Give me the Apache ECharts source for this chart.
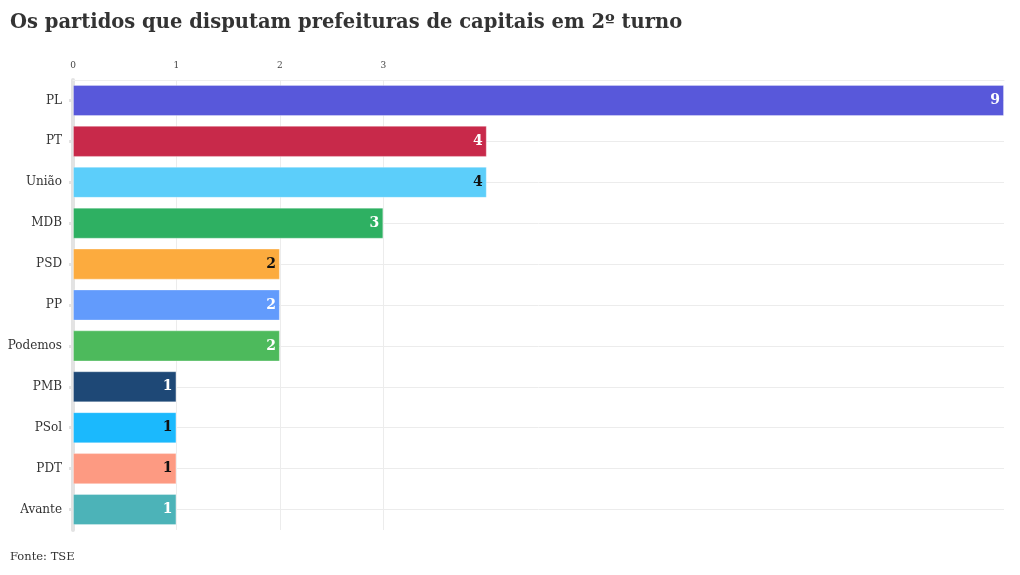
<!DOCTYPE html>
<html><head><meta charset="utf-8">
<script src="https://cdn.jsdelivr.net/npm/echarts@6/dist/echarts.min.js"></script>
<style>html,body{margin:0;padding:0;background:#fff}#c{width:1020px;height:575px}</style>
</head><body><div id="c"></div>
<script>
const categories = ['PL','PT','União','MDB','PSD','PP','Podemos','PMB','PSol','PDT','Avante'];
const values = [9,4,4,3,2,2,2,1,1,1,1];
const colors = ['#5858da','#c8294a','#5ccefa','#2eb062','#fcab3e','#629bfc','#4dba5c','#1e4876','#1bb9fd','#fd9a82','#4cb3b8'];
const labelColors = ['#fff','#fff','#111','#fff','#111','#fff','#fff','#fff','#111','#111','#fff'];
const xTicks = [0,1,2,3];
const serif = 'DejaVu Serif';
const chart = echarts.init(document.getElementById('c'));
chart.setOption({
  animation:false,
  title:{text:'Os partidos que disputam prefeituras de capitais em 2º turno',left:10,top:13,padding:0,
    textStyle:{fontFamily:serif,fontSize:19.5,fontWeight:'bold',color:'#333'}},
  graphic:[{type:'text',left:10,top:551,style:{text:'Fonte: TSE',fontFamily:serif,fontSize:11.5,fill:'#333'}}],
  grid:{left:73,right:16,top:80,height:450,containLabel:false},
  xAxis:{type:'value',position:'top',min:0,max:9,interval:1,
    axisLine:{show:true,lineStyle:{color:'#eee',width:1}},axisTick:{show:false},
    splitLine:{show:false},
    axisLabel:{fontFamily:serif,fontSize:9,color:'#444',margin:10,
      formatter:v=>xTicks.indexOf(v)>=0?String(v):''}},
  yAxis:{type:'category',inverse:true,data:categories,
    axisLine:{show:true,lineStyle:{color:'#e3e3e3',width:4}},
    axisTick:{show:true,length:4,alignWithLabel:true,lineStyle:{color:'#e3e3e3',width:3}},
    splitLine:{show:true,alignWithLabel:true,lineStyle:{color:'#ececec',width:1}},
    axisLabel:{fontFamily:serif,fontSize:12,color:'#333',margin:11}},
  series:[{type:'bar',barCategoryGap:'24%',
    data:values.map((v,i)=>({value:v,itemStyle:{color:colors[i]},
      label:{color:labelColors[i]}})),
    itemStyle:{borderColor:'rgba(255,255,255,0.3)',borderWidth:1},
    label:{show:true,position:'insideRight',distance:4,fontFamily:serif,fontWeight:'bold',fontSize:14},
    markLine:{silent:true,z:1,symbol:'none',label:{show:false},
      lineStyle:{color:'#ececec',type:'solid',width:1},
      data:xTicks.filter(t=>t>0).map(t=>({xAxis:t}))},
    z:3}]
});
</script></body></html>
